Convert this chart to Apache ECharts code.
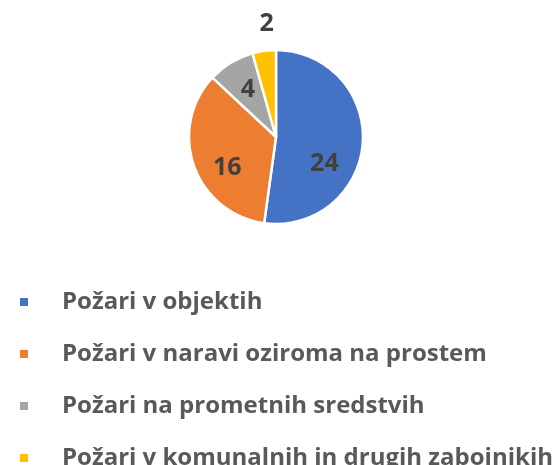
<!DOCTYPE html>
<html>
<head>
<meta charset="utf-8">
<script src="https://cdn.jsdelivr.net/npm/echarts@6/dist/echarts.min.js"></script>
<style>
  html, body { margin: 0; padding: 0; background: #fff; }
  #main { width: 558px; height: 465px; }
</style>
</head>
<body>
<div id="main"></div>
<script>
  const categories = [
    'Požari v objektih',
    'Požari v naravi oziroma na prostem',
    'Požari na prometnih sredstvih',
    'Požari v komunalnih in drugih zabojnikih'
  ];
  const values = [24, 16, 4, 2];
  const colors = ['#4472C4', '#ED7D31', '#A5A5A5', '#FFC000'];
  // nudge labels to where the original puts them
  const labelOffsets = [[2, 24], [-5, 15], [-4, -7], [-3, -67]];

  const chart = echarts.init(document.getElementById('main'));

  let pieData = [];
  categories.forEach((name, i) => {
    pieData.push({
      name: name,
      value: values[i],
      label: { offset: labelOffsets[i] }
    });
  });

  chart.setOption({
    color: colors,
    animation: false,
    legend: {
      orient: 'vertical',
      left: 13,
      top: 285,
      height: 200,
      icon: 'rect',
      itemWidth: 10,
      itemHeight: 10,
      itemGap: 28,
      textStyle: {
        fontFamily: 'Open Sans',
        fontWeight: 'bold',
        fontSize: 24,
        lineHeight: 24,
        color: '#595959',
        padding: [0, 0, 0, 28]
      },
      data: categories
    },
    series: [{
      type: 'pie',
      center: [276, 137],
      radius: 87,
      startAngle: 90,
      clockwise: true,
      itemStyle: { borderColor: '#fff', borderWidth: 2.5 },
      label: {
        position: 'inside',
        formatter: '{c}',
        fontFamily: 'Open Sans',
        fontWeight: 'bold',
        fontSize: 25,
        color: '#404040'
      },
      labelLine: { show: false },
      data: pieData
    }]
  });
</script>
</body>
</html>
